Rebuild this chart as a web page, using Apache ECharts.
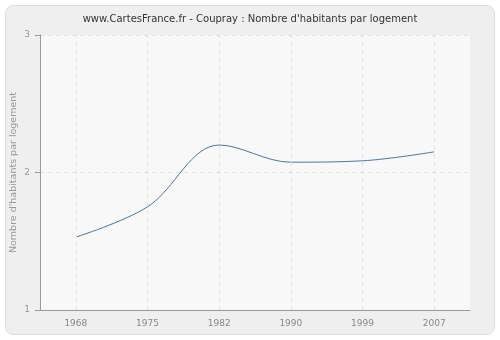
<!DOCTYPE html>
<html><head><meta charset="utf-8">
<script src="https://cdn.jsdelivr.net/npm/echarts@6/dist/echarts.min.js"></script>
<style>html,body{margin:0;padding:0;background:#fff}#c{width:500px;height:340px}</style>
</head><body><div id="c"></div>
<script>
const categories = ['1968','1975','1982','1990','1999','2007'];
const values = [1.53, 1.75, 2.20, 2.075, 2.085, 2.15];
const yTicks = [1, 2, 3];
const chart = echarts.init(document.getElementById('c'), null, {renderer:'canvas'});
chart.setOption({
  animation:false,
  backgroundColor:'#ffffff',
  graphic:[{type:'rect',z:-10,silent:true,shape:{x:5.5,y:5.5,width:489,height:329,r:8},style:{fill:'#efefef',stroke:'#dcdcdc',lineWidth:1}}],
  title:{text:"www.CartesFrance.fr - Coupray : Nombre d'habitants par logement",left:'center',top:9,
    textStyle:{fontFamily:'DejaVu Sans',fontSize:10,fontWeight:'normal',color:'#333'}},
  grid:{left:40,right:30,top:35,bottom:30,show:true,backgroundColor:'#f8f8f8',borderWidth:0,outerBoundsMode:'none',containLabel:false},
  xAxis:{type:'category',data:categories,boundaryGap:true,
    axisLine:{lineStyle:{color:'#999'}},
    axisTick:{alignWithLabel:true,length:5,lineStyle:{color:'#999'}},
    axisLabel:{color:'#888',fontFamily:'DejaVu Sans',fontSize:9,margin:9},
    splitLine:{show:false}},
  yAxis:{type:'value',min:yTicks[0],max:yTicks[yTicks.length-1],interval:1,
    name:"Nombre d'habitants par logement",nameLocation:'middle',nameGap:21,nameMoveOverlap:false,
    nameTextStyle:{color:'#999',fontFamily:'DejaVu Sans',fontSize:9.5},
    axisLine:{show:true,lineStyle:{color:'#999'}},
    axisTick:{show:true,length:5,lineStyle:{color:'#999'}},
    axisLabel:{color:'#999',fontFamily:'DejaVu Sans',fontSize:9,margin:10},
    splitLine:{show:true,lineStyle:{color:'#e2e2e2',type:[4,4]}}},
  series:[{type:'line',data:values,smooth:0.35,symbol:'none',
    lineStyle:{color:'#4a76a8',width:1},
    markLine:{silent:true,symbol:'none',label:{show:false},animation:false,
      lineStyle:{color:'#e2e2e2',type:[4,4],width:1},
      data:categories.map(c=>({xAxis:c}))}}]
});
</script></body></html>
